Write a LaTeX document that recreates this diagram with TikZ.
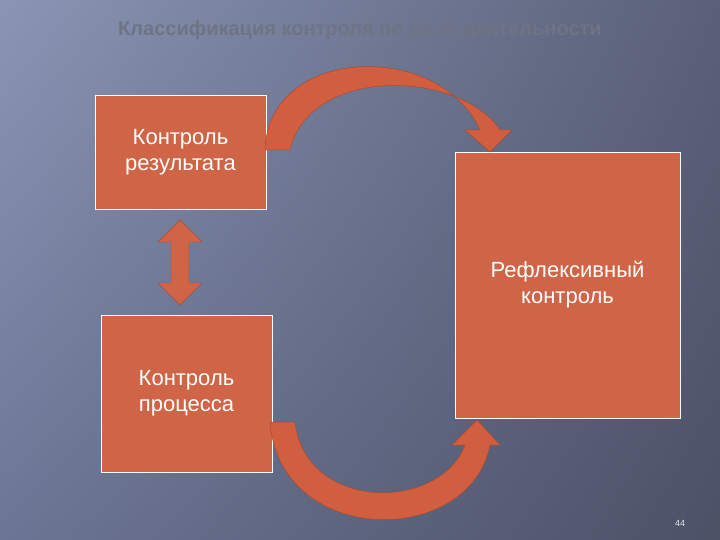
\documentclass[tikz,border=0pt]{standalone}
\usepackage{fontspec}
\setmainfont{Liberation Sans}
\usetikzlibrary{arrows.meta,shadings}
\definecolor{boxc}{HTML}{CF6446}
\definecolor{arrc}{HTML}{D15F3F}
\definecolor{titlec}{HTML}{6E7484}
\definecolor{bgtl}{HTML}{8A95B5}
\definecolor{bgtr}{HTML}{5A6078}
\definecolor{bgbl}{HTML}{6C7595}
\definecolor{bgbr}{HTML}{4C5166}
\tikzset{
  box/.style={draw=white,line width=0.8pt,fill=boxc,inner sep=0pt,font=\fontsize{22}{26}\selectfont,text=white,align=center},
  curv/.style={fill=arrc,draw=arrc!80!black,line width=0.5pt}
}
\begin{document}
\begin{tikzpicture}[x=1pt,y=-1pt]
\shade[lower left=bgbl, upper right=bgtr, lower right=bgbr, upper left=bgtl] (0,0) rectangle (720,540);
\useasboundingbox (0,0) rectangle (720,540);
\node[font=\bfseries\fontsize{20}{24}\selectfont,text=titlec] (title) at (360,30) {Классификация контроля по цели деятельности};
\node[box,minimum width=171pt,minimum height=114pt] (res) at (180.5,152) {Контроль\\результата};
\node[box,minimum width=225pt,minimum height=266pt] (ref) at (567.5,285) {Рефлексивный\\контроль};
\node[box,minimum width=171pt,minimum height=157pt] (proc) at (186.5,393.5) {Контроль\\процесса};
\node[font=\fontsize{9}{10}\selectfont,text=white!80!gray] (num) at (680,523) {44};
\draw[fill=boxc,draw=boxc!80!black] (180,220) -- (202,242) -- (189,242) -- (189,283) -- (202,283) -- (180,305) -- (158,283) -- (171,283) -- (171,242) -- (158,242) -- cycle;
\draw[curv] (265,150) .. controls (268,45) and (440,40) .. (480,130) -- (465,130) -- (490,152) -- (512,130) -- (500,130) .. controls (460,70) and (310,65) .. (290,150) -- cycle;
\draw[curv] (270,422) .. controls (280,548) and (470,548) .. (490,445) -- (500,445) -- (477,420) -- (452,445) -- (465,445) .. controls (440,512) and (305,512) .. (295,422) -- cycle;
\end{tikzpicture}
\end{document}
